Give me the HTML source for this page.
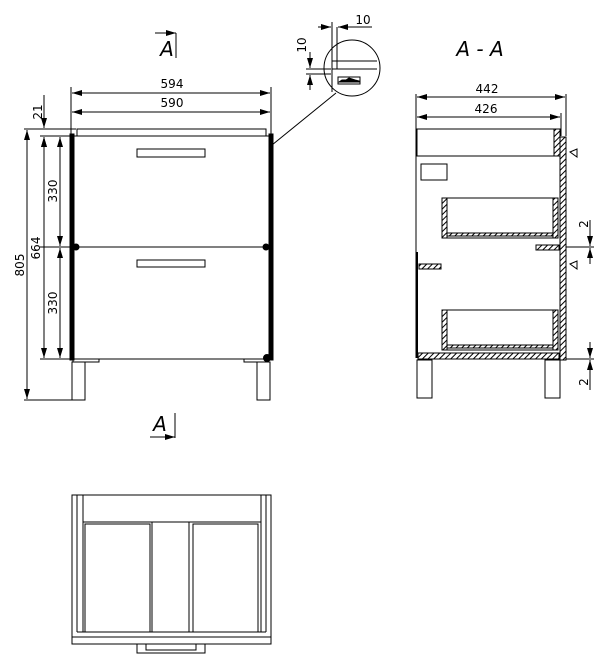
<!DOCTYPE html>
<html><head><meta charset="utf-8"><style>
html,body{margin:0;padding:0;background:#fff;width:609px;height:669px;overflow:hidden}
svg{display:block}
text{font-family:"DejaVu Sans","Liberation Sans",sans-serif;fill:#000}
</style></head><body>
<svg width="609" height="669" viewBox="0 0 609 669" xmlns="http://www.w3.org/2000/svg">
<defs>
<pattern id="h" width="4" height="4" patternUnits="userSpaceOnUse" patternTransform="rotate(45)">
<rect width="4" height="4" fill="#fff"/><line x1="0" y1="0" x2="0" y2="4" stroke="#000" stroke-width="2"/>
</pattern>
<marker id="a" viewBox="0 0 10 6" refX="10" refY="3" markerWidth="10" markerHeight="6" orient="auto-start-reverse" markerUnits="userSpaceOnUse"><path d="M0,0L10,3L0,6z" fill="#000"/></marker>
</defs>
<g stroke="#000" fill="none" stroke-width="1">
<rect x="77" y="129" width="189" height="7"/>
<rect x="70" y="134" width="4" height="226" fill="#000"/>
<rect x="269" y="134" width="4" height="226" fill="#000"/>
<line x1="72" y1="136" x2="271" y2="136"/>
<line x1="72" y1="247" x2="271" y2="247"/>
<line x1="72" y1="359" x2="271" y2="359"/>
<circle cx="76" cy="247" r="3" fill="#000"/><circle cx="266" cy="247" r="3" fill="#000"/><circle cx="267" cy="358" r="3.5" fill="#000"/>
<rect x="137" y="149" width="68" height="8"/>
<rect x="137" y="260" width="68" height="7"/>
<rect x="73" y="359" width="26" height="3"/><rect x="244" y="359" width="22" height="3"/>
<rect x="72" y="362" width="13" height="38"/><rect x="257" y="362" width="13" height="38"/>
<line x1="71" y1="87" x2="71" y2="136"/><line x1="271" y1="87" x2="271" y2="136"/>
<line x1="72" y1="93" x2="270" y2="93" marker-start="url(#a)" marker-end="url(#a)"/>
<line x1="72" y1="112" x2="270" y2="112" marker-start="url(#a)" marker-end="url(#a)"/>
<line x1="24" y1="129" x2="76" y2="129"/><line x1="40" y1="136" x2="70" y2="136"/>
<line x1="24" y1="400" x2="72" y2="400"/><line x1="40" y1="359" x2="70" y2="359"/>
<line x1="40" y1="247" x2="70" y2="247"/>
<line x1="27" y1="130" x2="27" y2="399" marker-start="url(#a)" marker-end="url(#a)"/>
<line x1="44" y1="137" x2="44" y2="358" marker-start="url(#a)" marker-end="url(#a)"/>
<line x1="60" y1="137" x2="60" y2="246" marker-start="url(#a)" marker-end="url(#a)"/>
<line x1="60" y1="248" x2="60" y2="358" marker-start="url(#a)" marker-end="url(#a)"/>
<line x1="44" y1="95" x2="44" y2="128" marker-end="url(#a)"/>
<line x1="44" y1="150" x2="44" y2="137" marker-end="url(#a)"/>
<line x1="176" y1="33" x2="176" y2="58"/><line x1="155" y1="33" x2="176" y2="33" marker-end="url(#a)"/>
<line x1="175" y1="413" x2="175" y2="438"/><line x1="150" y1="437" x2="175" y2="437" marker-end="url(#a)"/>
<line x1="272" y1="145" x2="336" y2="93"/>
<circle cx="352" cy="68" r="28"/>
<line x1="332" y1="61" x2="377" y2="61"/><line x1="332" y1="69" x2="377" y2="69"/>
<line x1="332" y1="61" x2="332" y2="92"/><line x1="337" y1="27" x2="337" y2="69"/>
<line x1="332" y1="22" x2="332" y2="61"/>
<rect x="338" y="77" width="22" height="7"/>
<path d="M339,82 l3,-2 4,0 3,-2 3,1 3,1 4,1 v1z" fill="#000"/>
<line x1="318" y1="27" x2="331" y2="27" marker-end="url(#a)"/><line x1="352" y1="27" x2="338" y2="27" marker-end="url(#a)"/><line x1="338" y1="27" x2="372" y2="27"/>
<line x1="306" y1="69" x2="331" y2="69"/><line x1="306" y1="74" x2="331" y2="74"/>
<line x1="310" y1="52" x2="310" y2="68" marker-end="url(#a)"/><line x1="310" y1="90" x2="310" y2="75" marker-end="url(#a)"/>
<line x1="416" y1="94" x2="416" y2="358"/><line x1="566" y1="94" x2="566" y2="136"/><line x1="561" y1="113" x2="561" y2="136"/>
<line x1="417" y1="97" x2="565" y2="97" marker-start="url(#a)" marker-end="url(#a)"/>
<line x1="417" y1="117" x2="560" y2="117" marker-start="url(#a)" marker-end="url(#a)"/>
<rect x="417" y="129" width="137" height="27"/>
<rect x="554" y="129" width="6" height="27" fill="url(#h)"/>
<rect x="560" y="137" width="6" height="223" fill="url(#h)"/>
<rect x="421" y="164" width="26" height="16"/>
<line x1="442" y1="198" x2="558" y2="198"/>
<rect x="442" y="198" width="5" height="40" fill="url(#h)"/><rect x="553" y="198" width="5" height="40" fill="url(#h)"/>
<rect x="447" y="233" width="106" height="3" fill="url(#h)"/><line x1="442" y1="238" x2="558" y2="238"/>
<rect x="536" y="245" width="23" height="5" fill="url(#h)"/>
<rect x="419" y="264" width="22" height="5" fill="url(#h)"/>
<line x1="417" y1="252" x2="417" y2="358" stroke-width="2"/>
<line x1="442" y1="310" x2="558" y2="310"/>
<rect x="442" y="310" width="5" height="40" fill="url(#h)"/><rect x="553" y="310" width="5" height="40" fill="url(#h)"/>
<rect x="447" y="345" width="106" height="3" fill="url(#h)"/><line x1="442" y1="350" x2="558" y2="350"/>
<rect x="418" y="353" width="141" height="6" fill="url(#h)"/>
<rect x="417" y="360" width="15" height="38"/><rect x="545" y="360" width="15" height="38"/>
<path d="M570,152 L577,149 L577,157 z"/><path d="M570,264 L577,261 L577,269 z"/>
<line x1="566" y1="247" x2="594" y2="247"/><line x1="566" y1="359" x2="594" y2="359"/>
<line x1="590" y1="220" x2="590" y2="246" marker-end="url(#a)"/><line x1="590" y1="264" x2="590" y2="248" marker-end="url(#a)"/>
<line x1="590" y1="342" x2="590" y2="358" marker-end="url(#a)"/><line x1="590" y1="390" x2="590" y2="360" marker-end="url(#a)"/>
<rect x="72" y="495" width="199" height="142"/>
<rect x="72" y="637" width="199" height="7"/>
<line x1="77" y1="495" x2="77" y2="632"/><line x1="83" y1="495" x2="83" y2="632"/>
<line x1="261" y1="495" x2="261" y2="632"/><line x1="266" y1="495" x2="266" y2="632"/>
<line x1="83" y1="522" x2="261" y2="522"/>
<rect x="85" y="524" width="65" height="108"/><rect x="193" y="524" width="65" height="108"/>
<line x1="152" y1="522" x2="152" y2="632"/><line x1="189" y1="522" x2="189" y2="632"/>
<line x1="77" y1="632" x2="266" y2="632"/>
<path d="M137,644 V653 H205 V644 M146,644 V650 H196 V644"/>
</g>
<g font-size="12" text-anchor="middle">
<text x="172" y="88">594</text><text x="172" y="107">590</text>
<text x="487" y="93">442</text><text x="486" y="113">426</text>
<text x="363" y="24">10</text>
<text transform="translate(42,112) rotate(-90)">21</text>
<text transform="translate(24,265) rotate(-90)">805</text>
<text transform="translate(40,248) rotate(-90)">664</text>
<text transform="translate(57,191) rotate(-90)">330</text>
<text transform="translate(57,303) rotate(-90)">330</text>
<text transform="translate(306,45) rotate(-90)">10</text>
<text transform="translate(588,224) rotate(-90)">2</text>
<text transform="translate(588,382) rotate(-90)">2</text>
</g>
<g font-size="20" font-style="italic" text-anchor="middle">
<text x="167" y="56">A</text><text x="160" y="431">A</text><text x="480" y="56">A - A</text>
</g>
</svg>
</body></html>
